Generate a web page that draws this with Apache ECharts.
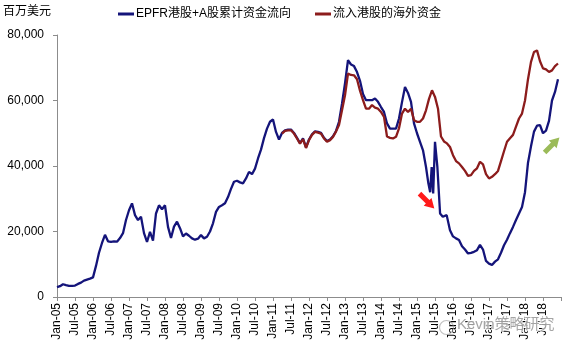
<!DOCTYPE html>
<html>
<head>
<meta charset="utf-8">
<script src="https://cdn.jsdelivr.net/npm/echarts@6/dist/echarts.min.js"></script>
<style>
  html, body { margin: 0; padding: 0; background: #fff; }
  #chart { width: 570px; height: 350px; }
</style>
</head>
<body>
<div id="chart"></div>
<script>
// Units and series names
const unitLabel = '百万美元';
const seriesNames = ['EPFR港股+A股累计资金流向', '流入港股的海外资金'];
const watermarkText = 'Kevin策略研究';

// Half-yearly tick labels along the time axis
const tickLabels = [
  'Jan-05', 'Jul-05', 'Jan-06', 'Jul-06', 'Jan-07', 'Jul-07', 'Jan-08', 'Jul-08',
  'Jan-09', 'Jul-09', 'Jan-10', 'Jul-10', 'Jan-11', 'Jul-11', 'Jan-12', 'Jul-12',
  'Jan-13', 'Jul-13', 'Jan-14', 'Jul-14', 'Jan-15', 'Jul-15', 'Jan-16', 'Jul-16',
  'Jan-17', 'Jul-17', 'Jan-18', 'Jul-18'
];
const yTicks = [0, 20000, 40000, 60000, 80000];

// Builds a list of 'YYYY-MM' month stamps, inclusive
function monthRange(from, to) {
  const out = [];
  let [y, m] = from.split('-').map(Number);
  const [ty, tm] = to.split('-').map(Number);
  while (y < ty || (y === ty && m <= tm)) {
    out.push(y + '-' + String(m).padStart(2, '0'));
    m++; if (m > 12) { m = 1; y++; }
  }
  return out;
}

// EPFR cumulative flows into HK + A shares (USD mn)
const epfrDates = [
  ...monthRange('2005-01', '2015-04'),
  '2015-04-25', '2015-05-13', '2015-05-28', '2015-06-13', '2015-07-01',
  '2015-07-25', '2015-08-22', '2015-09-19', '2015-10-28', '2015-12-01',
  ...monthRange('2016-01', '2018-12')
];
const epfrValues = [
  3000, 3300, 3900, 3600, 3400, 3400, 3500, 4000, 4400, 5000, 5300, 5600,
  6000, 9500, 13500, 16500, 19000, 17000, 16800, 17000, 16900, 18000, 19500, 23500,
  26500, 28600, 25000, 23500, 24500, 19500, 16800, 19900, 17200, 25500, 28000, 26800,
  28000, 21400, 18000, 21500, 23000, 21000, 18500, 19400, 18700, 17900, 17500, 17800,
  18900, 17900, 18400, 20000, 22500, 26000, 27500, 28000, 28600, 30500, 33000, 35200,
  35500, 35000, 34700, 36200, 38200, 37500, 39200, 42300, 45000, 48500, 51400, 53500,
  54200, 50400, 48100, 50100, 50900, 51100, 51100, 50100, 48600, 47000, 48400, 45700,
  48100, 49700, 50600, 50400, 50100, 48600, 47600, 48100, 49100, 50700, 53500, 59000,
  65200, 72300, 71000, 70500, 68700, 66000, 62000, 60100, 60100, 60100, 60600, 59600,
  58000, 56500, 53000, 51400, 51400, 51400, 54500, 59500, 64100, 62300, 59600, 53000,
  50000, 47400, 44800, 39700,
  34700, 32000, 39700, 31600, 47400, 39700, 25500, 24500, 25000, 20400,
  18500, 17900, 17400, 15500, 14500, 13300, 13500, 13800, 14300, 15900, 14500, 11000,
  10200, 9800, 10800, 11500, 13500, 15800, 17500, 19500, 21400, 23500, 25500, 27500,
  32000, 41000, 46000, 50500, 52300, 52500, 50000, 50800, 53800, 60000, 62600, 66500
];

// Foreign money flowing into HK stocks (USD mn)
const inflowDates = monthRange('2011-04', '2018-12');
const inflowValues = [
  49900, 50700, 50900, 50900, 49900, 48400, 46800, 48200, 45500,
  47900, 49500, 50400, 50200, 49900, 48400, 47400, 47900, 48900, 50500, 52500, 57000,
  61600, 68200, 67800, 67700, 66500, 63000, 60100, 57500, 57500, 58600, 57800, 57500,
  56500, 55000, 49000, 48600, 48400, 48900, 51500, 56000, 57500, 56500, 57500, 54000,
  53500, 53500, 54500, 57000, 60500, 63100, 61100, 57500, 49000, 47500, 46900, 45800,
  43300, 41500, 40800, 39700, 38500, 37000, 37200, 38500, 39300, 41300, 40500, 37500,
  36200, 36700, 37500, 38500, 41500, 44500, 47400, 48500, 49500, 52000, 54500, 56000,
  60000, 66500, 71800, 74800, 75300, 72000, 69800, 69500, 68700, 69200, 70500, 71300
];

// Date string -> months elapsed since Jan 2005 (fractional within a month)
function toMonthIndex(d) {
  const p = d.split('-').map(Number);
  const day = p[2] || 1;
  return (p[0] - 2005) * 12 + (p[1] - 1) + (day - 1) / 30.4;
}
function pairs(dates, values) {
  return dates.map((d, i) => [toMonthIndex(d), values[i]]);
}

const FONT = "'Liberation Sans', Arial, 'Noto Sans CJK SC', sans-serif";
const BLUE = '#14147a';
const RED = '#8c1c1c';
// Block-arrow outline pointing up; rotated per use
const ARROW = 'path://M5.5,0 L11,9 L8,9 L8,20 L3,20 L3,9 L0,9 Z';

const chart = echarts.init(document.getElementById('chart'), null, { renderer: 'canvas' });
chart.setOption({
  backgroundColor: '#fff',
  animation: false,
  textStyle: { fontFamily: FONT },
  title: {
    text: unitLabel,
    left: 3, top: 6, padding: 0,
    textStyle: { fontSize: 12, fontWeight: 'normal', color: '#000', fontFamily: FONT }
  },
  legend: {
    left: 118, top: 8, padding: 0,
    icon: 'rect', itemWidth: 16, itemHeight: 3, itemGap: 24,
    textStyle: { fontSize: 12, color: '#000', fontFamily: FONT, padding: [0, 0, 0, -3] },
    data: seriesNames
  },
  grid: { left: 57, right: 9, top: 35, bottom: 53, containLabel: false },
  xAxis: {
    type: 'value', min: 0, max: 168, interval: 6,
    axisLine: { show: true, lineStyle: { color: '#8c8c8c', width: 1 } },
    axisTick: { show: true, length: 4, lineStyle: { color: '#8c8c8c' } },
    splitLine: { show: false },
    axisLabel: {
      rotate: 90, margin: 6, fontSize: 12, color: '#000', fontFamily: FONT,
      showMaxLabel: true,
      formatter: v => tickLabels[Math.round(v / 6)] || ''
    }
  },
  yAxis: {
    type: 'value', min: yTicks[0], max: yTicks[yTicks.length - 1], interval: yTicks[1] - yTicks[0],
    axisLine: { show: true, lineStyle: { color: '#8c8c8c', width: 1 } },
    axisTick: { show: true, length: 4, lineStyle: { color: '#8c8c8c' } },
    splitLine: { show: false },
    axisLabel: {
      margin: 13, fontSize: 12, color: '#000', fontFamily: FONT,
      formatter: v => v.toLocaleString('en-US')
    }
  },
  series: [
    {
      name: seriesNames[0], type: 'line', data: pairs(epfrDates, epfrValues),
      showSymbol: false, symbol: 'none',
      lineStyle: { color: BLUE, width: 2.3 }, itemStyle: { color: BLUE },
      markPoint: {
        silent: true,
        label: { show: false },
        data: [
          { coord: [123.3, 29300], symbol: ARROW, symbolSize: [11, 21], symbolRotate: -135, itemStyle: { color: '#ff1a1a' } },
          { coord: [165, 46400], symbol: ARROW, symbolSize: [11, 21], symbolRotate: -45, itemStyle: { color: '#9bbb59' } }
        ]
      }
    },
    {
      name: seriesNames[1], type: 'line', data: pairs(inflowDates, inflowValues),
      showSymbol: false, symbol: 'none',
      lineStyle: { color: RED, width: 2.3 }, itemStyle: { color: RED }
    }
  ],
  graphic: [
    {
      type: 'circle', left: 437, top: 318, silent: true, z: 100,
      shape: { r: 7 },
      style: { fill: 'none', stroke: 'rgba(150,150,150,0.6)', lineWidth: 1.2 }
    },
    {
      type: 'text', left: 456, top: 316, silent: true, z: 100,
      style: {
        text: watermarkText, fontSize: 15, fontFamily: FONT,
        fill: 'rgba(135,135,135,0.75)', stroke: 'rgba(255,255,255,0.8)', lineWidth: 2
      }
    }
  ]
});
</script>
</body>
</html>
